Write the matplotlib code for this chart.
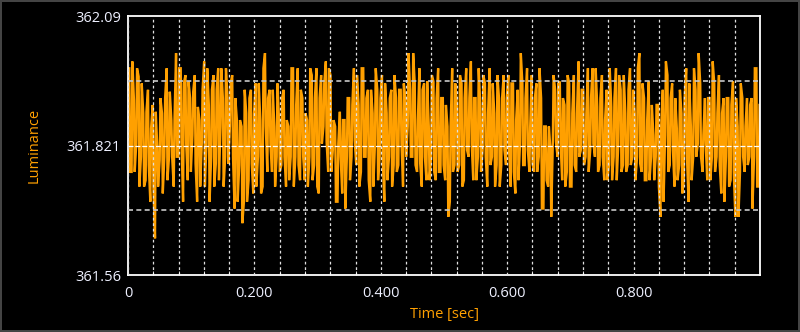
import numpy as np
import matplotlib
matplotlib.use("Agg")
import matplotlib.pyplot as plt

# ---- data ----
peaks = [
    361.979, 361.993, 361.914, 361.979, 361.962, 361.948, 361.887, 361.890, 361.935, 361.856,
    361.904, 361.890, 361.815, 361.918, 361.887, 361.918, 361.979, 361.931, 361.873, 361.873,
    362.010, 361.979, 361.979, 361.948, 361.965, 361.952, 361.918, 361.931, 361.965, 361.900,
    361.873, 361.935, 361.993, 361.979, 361.904, 361.935,
    361.965, 361.935, 361.979, 361.979, 361.918, 361.979, 361.918, 361.948, 361.965, 361.918,
    361.873, 361.873, 361.860, 361.935, 361.887, 361.918, 361.935, 361.887, 361.948, 361.948,
    361.873, 361.979, 362.010, 361.918, 361.935, 361.935, 361.860, 361.948, 361.873, 361.918,
    361.935, 361.873, 361.860, 361.979, 361.979, 361.904, 361.979, 361.935, 361.918, 361.887,
    361.873, 361.979, 361.965, 361.918,
    361.979, 361.918, 361.965, 361.948, 361.993, 361.979, 361.965, 361.873, 361.860, 361.825,
    361.890, 361.873, 361.873, 361.918, 361.918, 361.904, 361.979, 361.965, 361.904, 361.979,
    361.979, 361.918, 361.935, 361.935, 361.887, 361.979, 361.935, 361.918, 361.965, 361.948,
    361.887, 361.918, 361.935, 361.965, 361.918, 361.935, 361.935, 361.948, 361.918, 362.010,
    361.935, 362.010, 361.948, 361.873, 361.979, 361.935, 361.948,
    361.952, 361.860, 361.965, 361.952, 361.918, 361.979, 361.918, 361.918, 361.904, 361.860,
    361.860, 361.979, 361.948, 361.904, 361.965, 361.948, 361.918, 361.979, 361.918, 361.993,
    361.918, 361.918, 361.979, 361.904, 361.965, 361.948, 361.887, 361.979, 361.948, 361.887,
    361.965, 361.918, 361.918, 361.965, 361.918, 361.965, 361.948, 361.948, 361.873, 361.935,
    362.010, 361.948, 361.918, 361.979, 361.860,
    361.965, 361.918, 361.948, 361.979, 361.918, 361.860, 361.860, 361.860, 361.812, 361.965,
    361.935, 361.948, 361.952, 361.918, 361.904, 361.965, 361.948, 361.887, 361.965, 361.887,
    361.993, 361.935, 361.935, 361.887, 361.979, 361.918, 361.979, 361.979, 361.900, 361.918,
    361.965, 361.873, 361.935, 361.979, 361.900, 361.918, 361.979, 361.965, 361.935, 361.965,
    361.887, 361.935, 361.979, 361.935, 361.887, 361.979, 362.010, 361.948, 361.918, 361.873,
    361.952, 361.904, 361.842, 361.904, 361.904, 361.860, 361.935, 361.993, 361.965, 361.918,
    361.948, 361.918, 361.856, 361.935, 361.887, 361.918, 361.979, 361.948, 361.860, 361.979,
    361.935, 362.010, 361.948, 361.842, 361.918, 361.918, 361.918, 361.993, 361.948, 361.887,
    361.965, 361.887, 361.918, 361.918, 361.918, 361.904, 361.952, 361.918, 361.860, 361.948,
    361.918, 361.860, 361.918, 361.904, 361.918, 361.979, 361.979, 361.904,
]
troughs = [
    361.767, 361.767, 361.767, 361.825, 361.737, 361.798, 361.737, 361.750, 361.781, 361.706,
    361.737, 361.631, 361.737, 361.791, 361.723, 361.798, 361.750, 361.798, 361.798, 361.737,
    361.798, 361.798, 361.825, 361.706, 361.825, 361.750, 361.767, 361.842, 361.784, 361.706,
    361.737, 361.825, 361.737, 361.825, 361.706, 361.798,
    361.737, 361.784, 361.750, 361.860, 361.737, 361.798, 361.784, 361.860, 361.798, 361.692,
    361.706, 361.781, 361.662, 361.706, 361.706, 361.750, 361.784, 361.723, 361.737, 361.798,
    361.723, 361.737, 361.860, 361.767, 361.825, 361.767, 361.737, 361.798, 361.767, 361.781,
    361.798, 361.737, 361.750, 361.798, 361.737, 361.798, 361.781, 361.750, 361.798, 361.750,
    361.737, 361.798, 361.750, 361.781,
    361.737, 361.723, 361.825, 361.860, 361.829, 361.767, 361.767, 361.812, 361.706, 361.706,
    361.798, 361.723, 361.692, 361.798, 361.750, 361.798, 361.832, 361.781, 361.737, 361.767,
    361.798, 361.798, 361.750, 361.706, 361.737, 361.825, 361.750, 361.798, 361.791, 361.706,
    361.750, 361.798, 361.737, 361.781, 361.767, 361.781, 361.825, 361.737, 361.798, 361.860,
    361.798, 361.798, 361.781, 361.767, 361.784, 361.737, 361.798,
    361.750, 361.750, 361.798, 361.767, 361.750, 361.767, 361.767, 361.781, 361.750, 361.675,
    361.706, 361.767, 361.781, 361.767, 361.781, 361.737, 361.750, 361.812, 361.798, 361.825,
    361.750, 361.750, 361.798, 361.767, 361.812, 361.798, 361.737, 361.781, 361.798, 361.737,
    361.781, 361.737, 361.781, 361.812, 361.781, 361.812, 361.737, 361.767, 361.723, 361.750,
    361.825, 361.781, 361.781, 361.812, 361.767,
    361.784, 361.767, 361.767, 361.798, 361.692, 361.692, 361.750, 361.737, 361.675, 361.825,
    361.829, 361.798, 361.825, 361.750, 361.737, 361.767, 361.737, 361.737, 361.781, 361.767,
    361.798, 361.812, 361.781, 361.798, 361.767, 361.812, 361.825, 361.798, 361.767, 361.781,
    361.798, 361.750, 361.750, 361.781, 361.750, 361.798, 361.750, 361.825, 361.767, 361.781,
    361.767, 361.781, 361.781, 361.798, 361.750, 361.798, 361.784, 361.767, 361.750, 361.750,
    361.750, 361.798, 361.750, 361.798, 361.737, 361.675, 361.706, 361.842, 361.767, 361.781,
    361.812, 361.737, 361.750, 361.781, 361.723, 361.750, 361.798, 361.706, 361.750, 361.798,
    361.798, 361.825, 361.798, 361.767, 361.825, 361.750, 361.750, 361.798, 361.767, 361.798,
    361.781, 361.723, 361.706, 361.798, 361.737, 361.750, 361.767, 361.675, 361.675, 361.767,
    361.798, 361.767, 361.781, 361.798, 361.692, 361.798, 361.737, 361.737,
]
y_tick_values = [361.556, 361.821, 362.086]
y_tick_labels = ["361.56", "361.821", "362.09"]
x_tick_values = [0, 0.2, 0.4, 0.6, 0.8]
x_tick_labels = ["0", "0.200", "0.400", "0.600", "0.800"]
x_label = "Time [sec]"
y_label = "Luminance"

# ---- build series: each stroke is a vertical swing between a peak and a trough ----
n = min(len(peaks), len(troughs))
stroke_t = np.linspace(0.002, 0.998, n)
t_series, v_series = [], []
for i in range(n):
    pair = (peaks[i], troughs[i]) if i % 2 == 0 else (troughs[i], peaks[i])
    t_series += [stroke_t[i], stroke_t[i] + 0.0012]
    v_series += list(pair)

FONT = ["Open Sans", "DejaVu Sans"]
ORANGE = "#FFA000"
TICK_COLOR = "#EEF0FF"

fig = plt.figure(figsize=(8.0, 3.32), dpi=100, facecolor="black")
fig.patch.set_edgecolor("#444444")
fig.patch.set_linewidth(1.5)
ax = fig.add_axes([128 / 800, 57 / 332, 632 / 800, 259 / 332])
ax.set_facecolor("black")

ax.plot(t_series, v_series, color=ORANGE, lw=1.7, solid_joinstyle="miter", zorder=2)

ax.set_xlim(0, 1.0)
ax.set_ylim(y_tick_values[0], y_tick_values[-1])

# grid lines
yr = y_tick_values[-1] - y_tick_values[0]
for q in (0.25, 0.75):
    ax.axhline(y_tick_values[0] + q * yr, color="#C8C8C8", lw=1.2, ls=(0, (3, 2)), zorder=3)
ax.axhline(y_tick_values[1], color="white", lw=0.9, ls=(0, (4, 1.5)), zorder=3)

ax.set_xticks(x_tick_values)
ax.set_xticklabels(x_tick_labels)
ax.set_xticks(np.arange(0.04, 0.99, 0.04), minor=True)
ax.grid(True, axis="x", which="both", color="#E0E0E0", lw=0.9, ls=(0, (2.2, 2.2)), zorder=3)
ax.set_axisbelow(False)

ax.set_yticks(y_tick_values)
ax.set_yticklabels(y_tick_labels)

ax.tick_params(axis="x", which="both", direction="in", length=3, color="white",
               labelcolor=TICK_COLOR, labelsize=10.5, pad=8)
ax.tick_params(axis="x", which="major", length=0)
ax.tick_params(axis="y", which="both", length=0, labelcolor=TICK_COLOR, labelsize=10.5, pad=5)
for lab in ax.get_xticklabels() + ax.get_yticklabels():
    lab.set_family(FONT)

for sp in ax.spines.values():
    sp.set_color("white")
    sp.set_linewidth(1.3)

ax.set_xlabel(x_label, color=ORANGE, fontsize=10.5, family=FONT, labelpad=4)
ax.set_ylabel(y_label, color=ORANGE, fontsize=10.5, family=FONT, labelpad=18)

fig.savefig("out.png", dpi=100, facecolor=fig.get_facecolor(), edgecolor=fig.get_edgecolor())
